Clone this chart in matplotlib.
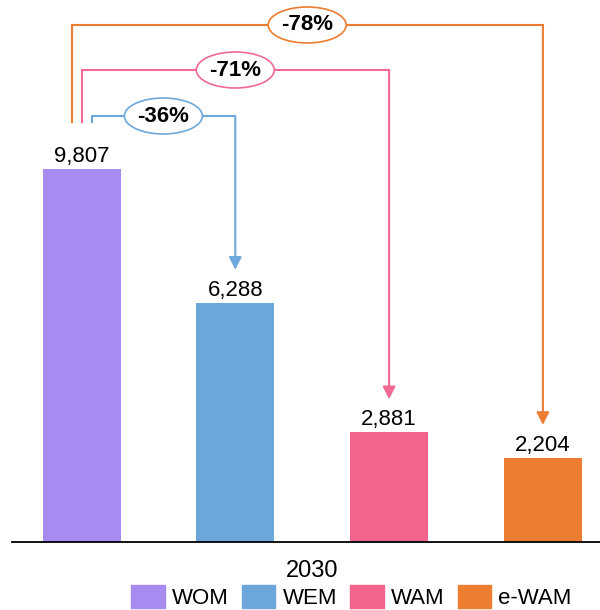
import numpy as np
from matplotlib import pyplot as plt
from matplotlib.patches import Ellipse, Patch

scenarios = ['WOM', 'WEM', 'WAM', 'e-WAM']
values = [9807, 6288, 2881, 2204]
changes = ['-36%', '-71%', '-78%']
year = '2030'

bar_colors = ['#A78BF1', '#6CA6DA', '#F3638C', '#ED7D31']
line_colors = ['#6FA8DC', '#F06A93', '#ED7D31']

plt.rcParams['font.family'] = ['Liberation Sans', 'DejaVu Sans']

W, H = 600, 610
base_px = 541.7
fig = plt.figure(figsize=(W / 100, H / 100), dpi=100)
ax = fig.add_axes([12 / W, (H - base_px) / H, (W - 12) / W, base_px / H])

# pixel <-> data helpers (layout only)
unit_per_px = values[0] / (base_px - 169)
step_px = 153.8
ymax = base_px * unit_per_px


def px_y(p):
    return (base_px - p) * unit_per_px


def dx(p):
    return p / step_px


x = np.arange(len(values))
ax.bar(x, values, width=dx(78), color=bar_colors, zorder=2)
ax.set_xlim(dx(12 - 81.5), dx(W - 81.5))
ax.set_ylim(0, ymax)

for xi, v in zip(x, values):
    ax.annotate(f'{v:,}', xy=(xi, v), xytext=(0, 5), textcoords='offset points',
                ha='center', va='baseline', fontsize=16)

# brackets from WOM to each other scenario
start_off = [10, 0, -10]
level_px = [116, 70, 25]
start_y = values[0] + 47 * unit_per_px
for i, (lab, col) in enumerate(zip(changes, line_colors)):
    tgt = i + 1
    x0 = x[0] + dx(start_off[i])
    x1 = x[tgt]
    yl = px_y(level_px[i])
    ax.plot([x0, x0, x1], [start_y, yl, yl], color=col, lw=1.5,
            solid_joinstyle='miter', zorder=3)
    ax.annotate('', xy=(x1, values[tgt] + 33 * unit_per_px), xytext=(x1, yl),
                arrowprops=dict(arrowstyle='-|>,head_length=0.75,head_width=0.38',
                                mutation_scale=10, color=col, lw=1.5,
                                shrinkA=0, shrinkB=0), zorder=3)
    xm = (x0 + x1) / 2
    ax.add_patch(Ellipse((xm, yl), dx(78), 36 * unit_per_px, facecolor='white',
                         edgecolor=col, lw=1.2, zorder=4))
    ax.text(xm, yl, lab, ha='center', va='center', fontsize=16,
            fontweight='bold', zorder=5)

for s in ['top', 'right', 'left']:
    ax.spines[s].set_visible(False)
ax.spines['bottom'].set_linewidth(1.3)
ax.set_yticks([])
ax.set_xticks([x.mean()])
ax.set_xticklabels([year], fontsize=17)
ax.tick_params(axis='x', length=0, pad=13)

handles = [Patch(color=c, label=s) for c, s in zip(bar_colors, scenarios)]
fig.legend(handles=handles, loc='center', ncol=4, frameon=False, fontsize=16,
           bbox_to_anchor=(351.5 / W, 1 - 597 / H), handlelength=1.5,
           handleheight=1.2, handletextpad=0.32, columnspacing=0.6,
           borderpad=0.2)

fig.savefig('out.png', dpi=100)
